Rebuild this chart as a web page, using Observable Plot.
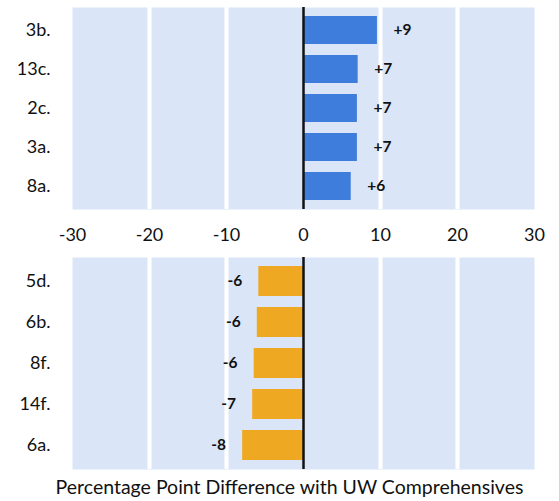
<!DOCTYPE html>
<html>
<head>
<meta charset="utf-8">
<script src="https://cdn.jsdelivr.net/npm/d3@7"></script>
<script src="https://cdn.jsdelivr.net/npm/@observablehq/plot@0.6"></script>
<style>
  html, body { margin: 0; padding: 0; background: #fff; }
  body { width: 559px; font-family: Lato, "Open Sans", sans-serif; }
  svg { display: block; }
  #caption { text-align: center; font-size: 19.5px; color: #111; margin-top: 4px; line-height: 24px; padding-left: 20px; white-space: nowrap; }
</style>
</head>
<body>
<div id="top"></div>
<div id="bottom"></div>
<div id="caption">Percentage Point Difference with UW Comprehensives</div>
<script>
const topItems = ["3b.", "13c.", "2c.", "3a.", "8a."];
const topValues = [9.6, 7.1, 7.0, 7.0, 6.2];
const topLabels = ["+9", "+7", "+7", "+7", "+6"];

const bottomItems = ["5d.", "6b.", "8f.", "14f.", "6a."];
const bottomValues = [-5.8, -6.0, -6.4, -6.6, -7.9];
const bottomLabels = ["-6", "-6", "-6", "-7", "-8"];

const xTicks = [-30, -20, -10, 0, 10, 20, 30];
const gridTicks = [-20, -10, 10, 20];

const font = "Lato, 'Open Sans', sans-serif";
const bg = "#dae5f7";

function panel(items, values, labels, color, opts) {
  const data = items.map((d, i) => ({item: d, value: values[i], label: labels[i]}));
  return Plot.plot({
    width: 559,
    height: opts.height,
    marginLeft: 72,
    marginRight: 25,
    marginTop: 7,
    marginBottom: opts.marginBottom,
    style: {fontFamily: font, fontSize: "18px", color: "#111", background: "white"},
    x: {domain: [-30, 30], ticks: xTicks, tickSize: 0, tickPadding: 19, label: null, axis: opts.showX ? "bottom" : null, tickFormat: d => String(d).replace("−", "-")},
    y: {domain: items, paddingInner: 0.27, paddingOuter: 0.16, tickSize: 0, tickPadding: 22, label: null},
    marks: [
      Plot.frame({fill: bg, stroke: null}),
      Plot.ruleX(gridTicks, {stroke: "white", strokeWidth: 4}),
      Plot.barX(data, {x: "value", y: "item", fill: color}),
      Plot.ruleX([0], {stroke: "#111", strokeWidth: 2.5}),
      Plot.text(data, {x: "value", y: "item", text: "label", dx: opts.dx, fontWeight: "bold", fontSize: 15.5, fill: "#111", textAnchor: "middle"})
    ]
  });
}

document.getElementById("top").append(panel(topItems, topValues, topLabels, "#3e7ddb", {height: 250, marginBottom: 41, showX: true, dx: 25}));
document.getElementById("bottom").append(panel(bottomItems, bottomValues, bottomLabels, "#eea822", {height: 221, marginBottom: 2, showX: false, dx: -24}));
</script>
</body>
</html>
